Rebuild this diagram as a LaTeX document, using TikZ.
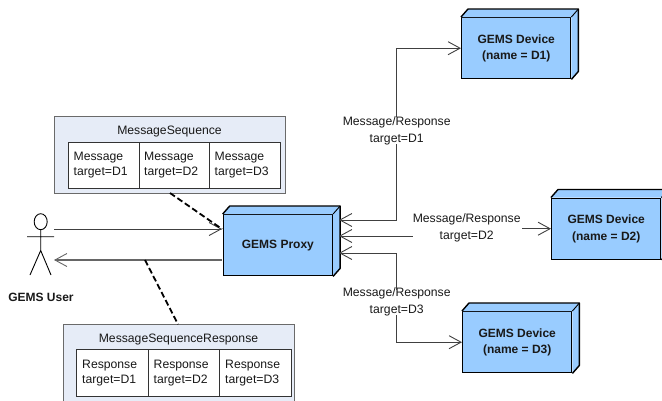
\documentclass[tikz,border=0pt]{standalone}
\usepackage{fontspec}
\setmainfont{Liberation Sans}
\usetikzlibrary{arrows.meta,calc,shapes.geometric}
\definecolor{devblue}{HTML}{99CCFF}
\definecolor{seqfill}{HTML}{E6ECF7}
\definecolor{seqline}{HTML}{6A6A6A}
\definecolor{wire}{HTML}{404040}
\tikzset{
  device/.style={draw=black,line width=1.4pt,fill=devblue,rectangle,minimum width=#1,minimum height=61,inner sep=0,align=center,font=\bfseries\fontsize{12}{16.5}\selectfont,text=black!90},
  device/.default=109,
  seqbox/.style={draw=seqline,line width=1.1pt,fill=seqfill,rectangle,minimum width=231,inner sep=0},
  cell/.style={draw=black!80,line width=.9pt,fill=white,rectangle,minimum height=46.5,inner sep=0,align=left,text width=63,font=\fontsize{12.2}{15.3}\selectfont,text=black!90},
  seqtitle/.style={inner sep=0,font=\fontsize{12.2}{14}\selectfont,text=black!90},
  wirelabel/.style={inner sep=0,align=center,font=\fontsize{12.2}{17}\selectfont,text=black!90},
  wirearrow/.style={draw=wire,line width=.9pt,-{Straight Barb[length=12pt,width=13pt,line width=.9pt]}},
  notelink/.style={draw=black,line width=1.8pt,dash pattern=on 6pt off 3pt},
  actorline/.style={draw=black,line width=.9pt}
}
\newcommand{\depthfaces}[1]{%
  \fill[devblue] (#1.north west) -- ++(7,-8) -- ([shift={(7,-8)}]#1.north east) -- ([shift={(7,-8)}]#1.south east) -- (#1.south east) -- (#1.north east) -- cycle;
  \draw[black,line width=1.4pt,line join=round] (#1.north west) -- ++(7,-8) -- ([shift={(7,-8)}]#1.north east) -- ([shift={(7,-8)}]#1.south east) -- (#1.south east);
  \draw[black,line width=.9pt] (#1.north east) -- ([shift={(7,-8)}]#1.north east);
}
\begin{document}
\begin{tikzpicture}[x=1pt,y=-1pt]
\useasboundingbox (0,0) rectangle (662,400);
\clip (0,0) rectangle (662,400);

% Boxes with the message sequences
\node[seqbox,minimum height=77,anchor=north west] (seq) at (54,116) {};
\node[seqtitle] (seqt) at (169.5,131.5) {MessageSequence};
\node[cell,minimum width=70.5,anchor=north west,text width=60] (m1) at (68,141.7) {Message\\target=D1};
\node[cell,minimum width=70.5,anchor=north west,text width=60] (m2) at (138.5,141.7) {Message\\target=D2};
\node[cell,minimum width=70.5,anchor=north west,text width=60] (m3) at (209,141.7) {Message\\target=D3};

\node[seqbox,minimum height=80,anchor=north west] (rsp) at (63,324.3) {};
\node[seqtitle] (rspt) at (178.5,339.5) {MessageSequenceResponse};
\node[cell,minimum width=71.5,anchor=north west,text width=60] (r1) at (76,349.3) {Response\\target=D1};
\node[cell,minimum width=71.5,anchor=north west,text width=60] (r2) at (147.5,349.3) {Response\\target=D2};
\node[cell,minimum width=71.5,anchor=north west,text width=60] (r3) at (219,349.3) {Response\\target=D3};

% Deployment nodes
\node[device,anchor=north west] (proxy) at (222.7,214) {GEMS Proxy};
\depthfaces{proxy}
\node[device,anchor=north west] (d1) at (461,17) {GEMS Device\\(name = D1)};
\depthfaces{d1}
\node[device,anchor=north west] (d2) at (551,197.5) {GEMS Device\\(name = D2)};
\depthfaces{d2}
\node[device,anchor=north west] (d3) at (462,311) {GEMS Device\\(name = D3)};
\depthfaces{d3}

% Actor
\node[draw=black,line width=.9pt,ellipse,minimum width=13,minimum height=16,inner sep=0] (head) at (40.7,221.7) {};
\coordinate (hip) at (40.7,250.5);
\coordinate (armL) at (27,236.7);
\coordinate (armR) at (54,236.7);
\coordinate (footL) at (30,275);
\coordinate (footR) at (51,275);
\draw[actorline] (head.south) -- (hip) (armL) -- (armR) (footL) -- (hip) -- (footR);
\node[inner sep=0,font=\bfseries\fontsize{12}{14}\selectfont,text=black!90] (user) at (41,297.5) {GEMS User};

% User <-> proxy
\coordinate (uin) at (54,229);
\coordinate (pin) at (222,229);
\coordinate (uout) at (54,260);
\coordinate (pout) at (222,260);
\coordinate (retj) at (145,260);
\draw[wirearrow] (uin) -- (pin);
\draw[draw=black!60,line width=1.5pt,-{Straight Barb[length=12pt,width=13pt,line width=.9pt]}] (pout) -- (uout);

% Note links
\draw[notelink] (170,193) -- (pin);
\draw[notelink] (retj) -- (178,324.3);

% Labels
\node[wirelabel] (l1) at (396.7,131) {Message/Response\\target=D1};
\node[wirelabel] (l2) at (466.7,228) {Message/Response\\target=D2};
\node[wirelabel] (l3) at (396.7,302) {Message/Response\\target=D3};

% Proxy <-> devices
\coordinate (p1) at (339,220);
\coordinate (p2) at (339,236);
\coordinate (p3) at (339,253);
\draw[wirearrow] (l1.north) |- (d1.west);
\draw[wirearrow] ([yshift=1]l1.south) |- (p1);
\draw[wirearrow] ([xshift=1.5]l2.east |- d2.west) -- (d2.west);
\draw[wirearrow] (l2.west |- p2) -- (p2);
\draw[wirearrow] ([yshift=-2]l3.north) |- (p3);
\draw[wirearrow] ([yshift=1]l3.south) |- (d3.west);
\end{tikzpicture}
\end{document}
